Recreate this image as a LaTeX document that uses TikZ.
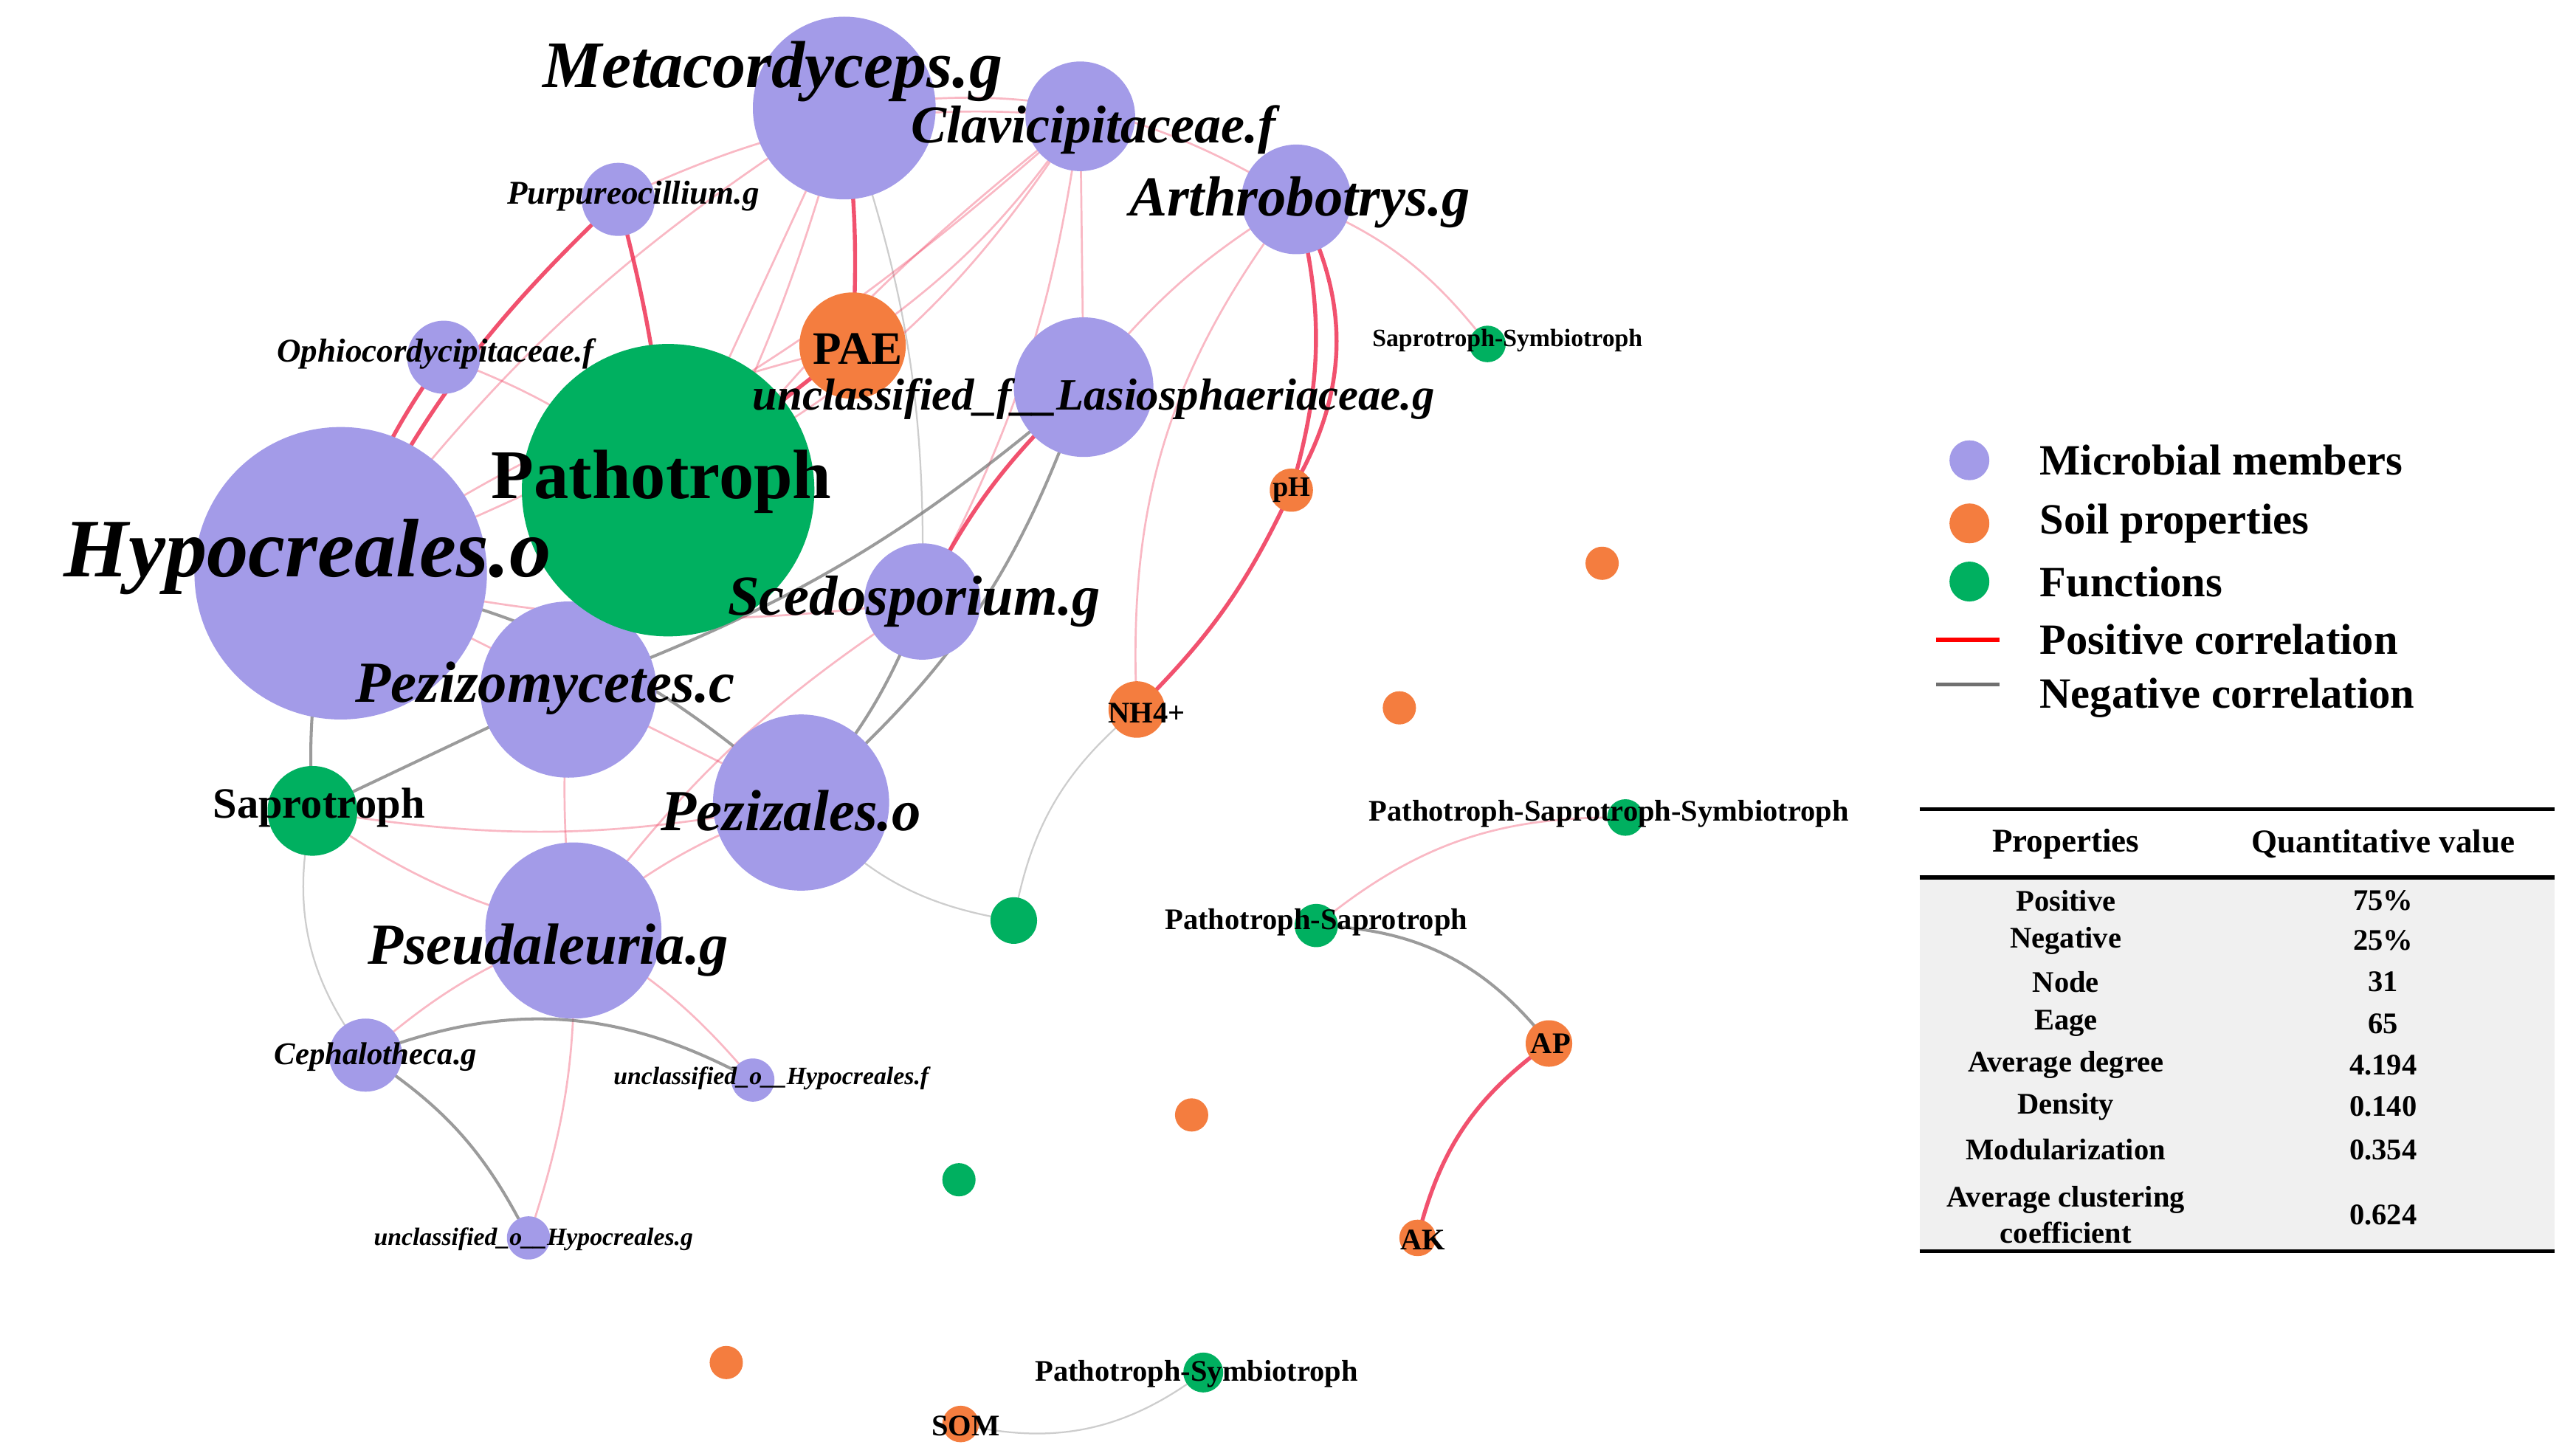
\documentclass[tikz,border=0pt]{standalone}
\usepackage{fontspec}
\setmainfont{Liberation Serif}
\begin{document}
\begin{tikzpicture}[x=0.5pt,y=-0.5pt,
 pur/.style={fill=cP,draw=none},
 ora/.style={fill=cO,draw=none},
 gre/.style={fill=cG,draw=none},
 pe/.style={draw=cR,line width=0.6pt,opacity=0.35},
 peS/.style={draw=cR,line width=1.2pt,opacity=0.85},
 neg/.style={draw=cN,line width=0.9pt,opacity=0.7},
 negL/.style={draw=cN,line width=0.5pt,opacity=0.35},
 lab/.style={font=\bfseries\itshape,inner sep=0pt},
 labu/.style={font=\bfseries,inner sep=0pt}]
\definecolor{cP}{HTML}{A39BE8}
\definecolor{cO}{HTML}{F47D3F}
\definecolor{cG}{HTML}{00B060}
\definecolor{cR}{HTML}{EE3355}
\definecolor{cN}{HTML}{707070}
\useasboundingbox (0,0) rectangle (1550,876);
% centres
\coordinate (meta) at (508,65);
\coordinate (clav) at (650,70);
\coordinate (purp) at (372,120);
\coordinate (arth) at (780,120);
\coordinate (pae) at (513,208);
\coordinate (ophi) at (267,215);
\coordinate (patho) at (402,295);
\coordinate (lasi) at (652,233);
\coordinate (hypo) at (205,345);
\coordinate (sced) at (555,362);
\coordinate (pezc) at (342,415);
\coordinate (pezo) at (482,483);
\coordinate (sapr) at (188,488);
\coordinate (pseu) at (345,560);
\coordinate (ceph) at (220,635);
\coordinate (uhf) at (453,650);
\coordinate (uhg) at (318,745);
\coordinate (ssym) at (895,207);
\coordinate (ph) at (777,295);
\coordinate (o1) at (964,339);
\coordinate (nh4) at (684,427);
\coordinate (o2) at (842,426);
\coordinate (g1) at (610,554);
\coordinate (pss) at (978,492);
\coordinate (ps) at (792,557);
\coordinate (ap) at (932,628);
\coordinate (o3) at (717,671);
\coordinate (g2) at (577,710);
\coordinate (ak) at (853,745);
\coordinate (o4) at (437,820);
\coordinate (psym) at (724,826);
\coordinate (som) at (578,857);
% edges
\draw[peS] (purp) to[bend right=10] (hypo);
\draw[peS] (purp) to[bend left=5] (patho);
\draw[peS] (ophi) to[bend right=10] (hypo);
\draw[pe] (ophi) to[bend left=10] (patho);
\draw[pe] (meta) to[bend right=10] (hypo);
\draw[pe] (meta) to (patho);
\draw[peS] (meta) to[bend left=5] (pae);
\draw[pe] (meta) to[bend left=10] (pezc);
\draw[pe] (meta) to[bend left=20] (arth);
\draw[negL] (meta) to[bend left=10] (sced);
\draw[pe] (clav) to[bend left=10] (hypo);
\draw[pe] (clav) to[bend left=15] (patho);
\draw[pe] (clav) to[bend left=10] (pae);
\draw[pe] (clav) to[bend right=10] (pezc);
\draw[pe] (clav) to (lasi);
\draw[pe] (clav) to[bend left=10] (sced);
\draw[pe] (purp) to[bend left=15] (clav);
\draw[peS] (arth) to[bend left=15] (ph);
\draw[peS] (arth) to[bend left=30] (ph);
\draw[pe] (arth) to[bend left=15] (ssym);
\draw[pe] (arth) to[bend right=10] (lasi);
\draw[pe] (arth) to[bend right=20] (nh4);
\draw[peS] (ph) to[bend left=10] (nh4);
\draw[negL] (nh4) to[bend right=20] (g1);
\draw[peS] (pae) to (patho);
\draw[pe] (pae) to[bend right=10] (hypo);
\draw[peS] (lasi) to[bend right=10] (sced);
\draw[neg] (lasi) to[bend left=10] (pezc);
\draw[neg] (lasi) to[bend left=15] (pezo);
\draw[neg] (sced) to[bend left=10] (pezo);
\draw[pe] (sced) to[bend left=10] (hypo);
\draw[pe] (sced) to[bend right=10] (pseu);
\draw[neg] (hypo) to[bend right=10] (sapr);
\draw[neg] (pezc) to (sapr);
\draw[neg] (hypo) to[bend left=15] (pezo);
\draw[pe] (hypo) to (pezo);
\draw[pe] (sapr) to[bend right=10] (pezo);
\draw[pe] (sapr) to[bend right=10] (pseu);
\draw[negL] (sapr) to[bend right=25] (ceph);
\draw[pe] (pezc) to[bend right=5] (pseu);
\draw[pe] (pseu) to[bend left=10] (pezo);
\draw[pe] (pseu) to[bend right=10] (ceph);
\draw[pe] (pseu) to[bend left=10] (uhg);
\draw[pe] (pseu) to[bend left=10] (uhf);
\draw[neg] (ceph) to[bend left=25] (uhf);
\draw[neg] (ceph) to[bend left=15] (uhg);
\draw[negL] (pezo) to[bend right=20] (g1);
\draw[pe] (ps) to[bend left=20] (pss);
\draw[neg] (ps) to[bend left=25] (ap);
\draw[peS] (ap) to[bend right=20] (ak);
\draw[negL] (som) to[bend right=25] (psym);
% nodes
\foreach \c/\r in {meta/55,clav/33,purp/22,arth/33,ophi/22,lasi/42,hypo/88,sced/35,pezc/53,pezo/53,pseu/53,ceph/22,uhf/13,uhg/13}
  \fill[pur] (\c) circle (\r);
\foreach \c/\r in {pae/32,ph/13,o1/10,nh4/17,o2/10,ap/14,o3/10,ak/11,o4/10,som/11}
  \fill[ora] (\c) circle (\r);
\foreach \c/\r in {patho/88,sapr/27,ssym/11,g1/14,pss/11,ps/13,g2/10,psym/12}
  \fill[gre] (\c) circle (\r);
% labels
\node[lab,font=\fontsize{20}{20}\selectfont\bfseries\itshape] (tmeta) at (465,43) {Metacordyceps.g};
\node[lab,font=\fontsize{16}{16}\selectfont\bfseries\itshape] (tclav) at (658,78) {Clavicipitaceae.f};
\node[lab,font=\fontsize{10}{10}\selectfont\bfseries\itshape] (tpurp) at (381,118) {Purpureocillium.g};
\node[lab,font=\fontsize{17}{17}\selectfont\bfseries\itshape] (tarth) at (782,122) {Arthrobotrys.g};
\node[labu,font=\fontsize{14}{14}\selectfont\bfseries] (tpae) at (516,210) {PAE};
\node[lab,font=\fontsize{10}{10}\selectfont\bfseries\itshape] (tophi) at (262,213) {Ophiocordycipitaceae.f};
\node[lab,font=\fontsize{13.5}{14}\selectfont\bfseries\itshape] (tlasi) at (658,240) {unclassified\_f\_\_Lasiosphaeriaceae.g};
\node[labu,font=\fontsize{21}{21}\selectfont\bfseries] (tpatho) at (398,290) {Pathotroph};
\node[lab,font=\fontsize{25}{25}\selectfont\bfseries\itshape] (thypo) at (185,335) {Hypocreales.o};
\node[lab,font=\fontsize{17}{17}\selectfont\bfseries\itshape] (tsced) at (550,362) {Scedosporium.g};
\node[lab,font=\fontsize{17.5}{18}\selectfont\bfseries\itshape] (tpezc) at (328,414) {Pezizomycetes.c};
\node[lab,font=\fontsize{17.5}{18}\selectfont\bfseries\itshape] (tpezo) at (476,488) {Pezizales.o};
\node[labu,font=\fontsize{13}{13}\selectfont\bfseries] (tsapr) at (192,486) {Saprotroph};
\node[lab,font=\fontsize{17.5}{18}\selectfont\bfseries\itshape] (tpseu) at (330,572) {Pseudaleuria.g};
\node[lab,font=\fontsize{9.5}{10}\selectfont\bfseries\itshape] (tceph) at (226,636) {Cephalotheca.g};
\node[lab,font=\fontsize{7.5}{8}\selectfont\bfseries\itshape] (tuhf) at (464,649) {unclassified\_o\_\_Hypocreales.f};
\node[lab,font=\fontsize{7.5}{8}\selectfont\bfseries\itshape] (tuhg) at (321,746) {unclassified\_o\_\_Hypocreales.g};
\node[labu,font=\fontsize{7.5}{8}\selectfont\bfseries] (tssym) at (907,205) {Saprotroph-Symbiotroph};
\node[labu,font=\fontsize{8.5}{9}\selectfont\bfseries] (tph) at (777,295) {pH};
\node[labu,font=\fontsize{9}{9}\selectfont\bfseries] (tnh4) at (690,429) {NH4+};
\node[labu,font=\fontsize{9}{9}\selectfont\bfseries] (tpss) at (968,490) {Pathotroph-Saprotroph-Symbiotroph};
\node[labu,font=\fontsize{9}{9}\selectfont\bfseries] (tps) at (792,555) {Pathotroph-Saprotroph};
\node[labu,font=\fontsize{9}{9}\selectfont\bfseries] (tap) at (933,628) {AP};
\node[labu,font=\fontsize{9}{9}\selectfont\bfseries] (tak) at (856,746) {AK};
\node[labu,font=\fontsize{9}{9}\selectfont\bfseries] (tpsym) at (720,827) {Pathotroph-Symbiotroph};
\node[labu,font=\fontsize{9}{9}\selectfont\bfseries] (tsom) at (581,858) {SOM};
% legend
\fill[pur] (1185,277) coordinate (l1) circle (12);
\fill[ora] (1185,315) coordinate (l2) circle (12);
\fill[gre] (1185,350) coordinate (l3) circle (12);
\draw[red,line width=1.2pt] (1165,385) coordinate (l4a) -- (1203,385) coordinate (l4b);
\draw[cN,line width=1.2pt] (1165,412) coordinate (l5a) -- (1203,412) coordinate (l5b);
\foreach \y/\t [count=\i] in {277/Microbial members,315/Soil properties,350/Functions,385/Positive correlation,420/Negative correlation}
  \node[labu,anchor=west,font=\fontsize{13}{13}\selectfont\bfseries] (leg\i) at (1227,\y) {\t};
% table
\fill[black!6] (1155,528) rectangle (1537,753);
\draw[line width=1.3pt] (1155,487) -- (1537,487);
\draw[line width=1.3pt] (1155,528) -- (1537,528);
\draw[line width=1.3pt] (1155,753) -- (1537,753);
\node[labu,font=\fontsize{10}{10}\selectfont\bfseries] (th1) at (1243,508) {Properties};
\node[labu,font=\fontsize{10}{10}\selectfont\bfseries] (th2) at (1434,508) {Quantitative value};
\foreach \y/\p/\v [count=\i] in {542/Positive/75\%,566/Negative/25\%,591/Node/31,616/Eage/65,641/Average degree/4.194,666/Density/0.140,692/Modularization/0.354}{
  \node[labu,font=\fontsize{9}{9}\selectfont\bfseries] (tp\i) at (1243,\y) {\p};
  \node[labu,font=\fontsize{9}{9}\selectfont\bfseries] (tv\i) at (1434,\y) {\v};}
\node[labu,font=\fontsize{9}{11}\selectfont\bfseries,align=center] (tp8) at (1243,731) {Average clustering\\coefficient};
\node[labu,font=\fontsize{9}{9}\selectfont\bfseries] (tv8) at (1434,731) {0.624};
\end{tikzpicture}
\end{document}
